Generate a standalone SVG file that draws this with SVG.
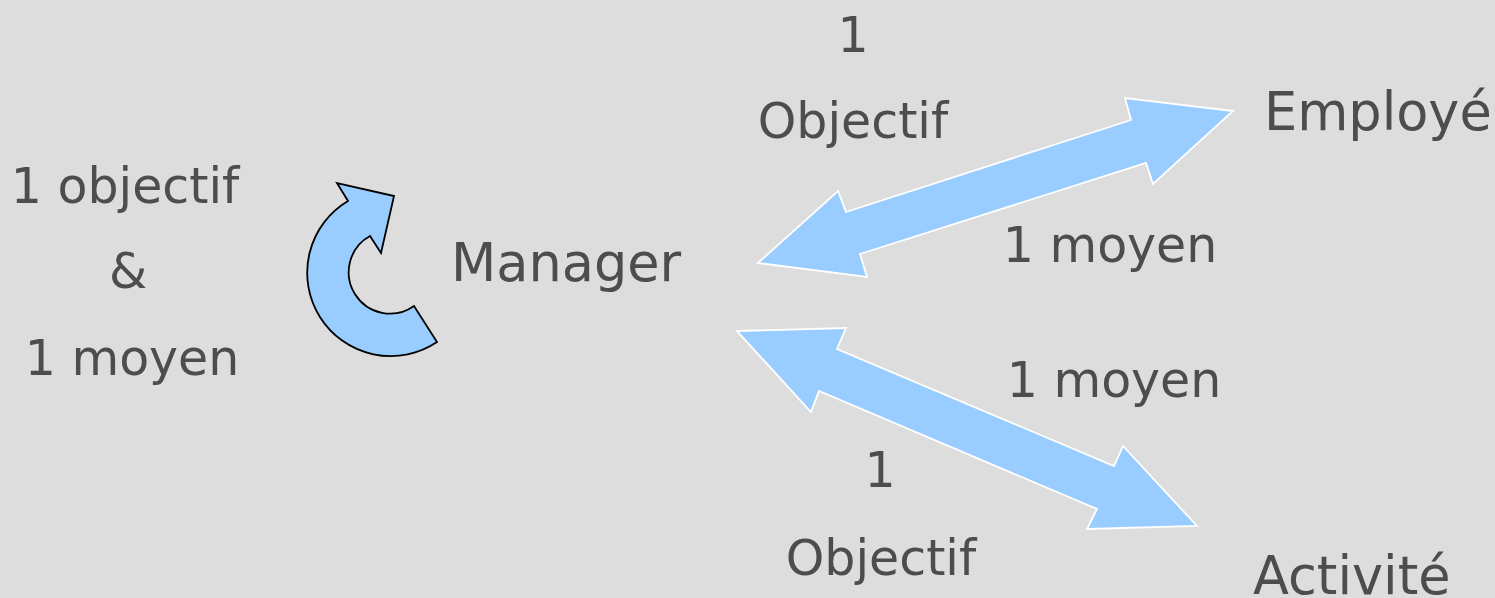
<svg xmlns="http://www.w3.org/2000/svg" width="1495" height="598" viewBox="0 0 1495 598">
<style>
.t{font-family:"DejaVu Sans","Liberation Sans",sans-serif;fill:#4d4d4d;font-size:49px}
.big{font-size:52.5px}
.arr{fill:#99ccff;stroke:#ffffff;stroke-width:1.8;stroke-linejoin:miter}
.cyc{fill:#99ccff;stroke:#000000;stroke-width:1.8;stroke-linejoin:miter}
</style>
<rect width="1495" height="598" fill="#dddddd"/>
<g id="connectors">
<path class="arr" d="M758,263 L838,191 L846,212 L1131,120 L1125,98 L1233,111 L1153,184 L1146,163 L860,254 L867,277 Z"/>
<path class="arr" d="M737,331 L846,328 L837,349 L1114,466 L1123,446 L1197,526 L1087,529 L1097,509 L819,391 L811,412 Z"/>
<path class="cyc" d="M437,342 A83.4,83.4 0 1 1 348,201 L337,183 L394,196 L381,253 L370,236 A41.4,41.4 0 1 0 414,306 Z"/>
</g>
<g id="manager"><text class="t big" x="451" y="281">Manager</text></g>
<g id="employe"><text class="t big" x="1264" y="130">Employé</text></g>
<g id="activite"><text class="t big" x="1253" y="594">Activité</text></g>
<g id="self-label">
<text class="t" x="125" y="203" text-anchor="middle">1 objectif</text>
<text class="t" x="128" y="288" text-anchor="middle">&amp;</text>
<text class="t" x="132" y="375" text-anchor="middle">1 moyen</text>
</g>
<g id="employe-labels">
<text class="t" x="853" y="52" text-anchor="middle">1</text>
<text class="t" x="853" y="138" text-anchor="middle">Objectif</text>
<text class="t" x="1110" y="262" text-anchor="middle">1 moyen</text>
</g>
<g id="activite-labels">
<text class="t" x="1114" y="397" text-anchor="middle">1 moyen</text>
<text class="t" x="880" y="487" text-anchor="middle">1</text>
<text class="t" x="881" y="575" text-anchor="middle">Objectif</text>
</g>
</svg>
